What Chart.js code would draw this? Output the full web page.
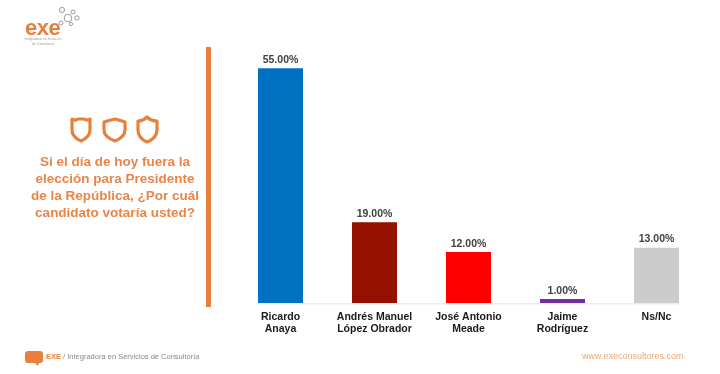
<!DOCTYPE html>
<html lang="es">
<head>
<meta charset="utf-8">
<title>exe</title>
<script src="https://cdn.jsdelivr.net/npm/chart.js@4"></script>
<style>
  html, body { margin: 0; padding: 0; background: #fff; }
  #wrap { position: relative; width: 720px; height: 374px; overflow: hidden; font-family: "Liberation Sans", Arial, sans-serif; }
  #chart { position: absolute; left: 0; top: 0; }
  .abs { position: absolute; white-space: nowrap; }
  #rule { left: 206px; top: 47px; width: 5px; height: 260px; background: #E87F3A; }
  #question { left: 15px; top: 153px; width: 200px; text-align: center; color: #E98546; font-weight: bold; font-size: 13.5px; line-height: 17px; }
  #logo { left: 25px; top: 15px; color: #E87F3A; font-weight: bold; font-size: 22px; letter-spacing: -0.5px; }
  #tag { left: 20px; top: 37px; width: 46px; text-align: center; color: #a09a95; font-size: 3.4px; line-height: 5px; }
  #foot { left: 46px; top: 352px; color: #8a8a8a; font-size: 7.5px; }
  #foot b { color: #E87F3A; }
  #web { left: 582px; top: 351px; color: #E8A77C; font-size: 9px; }
</style>
</head>
<body>
<div id="wrap">
  <canvas id="chart" width="720" height="374"></canvas>
  <svg class="abs" style="left:0;top:0" width="720" height="374" fill="none">
    <g stroke="#9a9a9a" stroke-width="1">
      <circle cx="62" cy="10" r="2.6"/>
      <circle cx="68" cy="18" r="3.8"/>
      <circle cx="73" cy="12" r="2"/>
      <circle cx="77" cy="18" r="2.2"/>
      <circle cx="61" cy="23" r="2"/>
      <circle cx="71" cy="24" r="1.6"/>
    </g>
    <g stroke="#E87F3A" stroke-width="3.2" stroke-linejoin="round">
      <path d="M72 119 q3 2 6 0 h6 q3 2 6 0 v11 q0 7 -9 11 q-9 -4 -9 -11 z"/>
      <path d="M104 122 q7 -2 11 -3 q4 1 10 3 v8 q0 7 -10 11 q-11 -4 -11 -11 z"/>
      <path d="M138 121 q5 0 9 -4 q4 4 10 4 v9 q0 8 -10 12 q-9 -4 -9 -12 z"/>
    </g>
    <path d="M28 351 h12 q3 0 3 3 v6 q0 3 -3 3 h-1 l-1 3 l-3 -3 h-7 q-3 0 -3 -3 v-6 q0 -3 3 -3 z" fill="#E87F3A"/>
  </svg>
  <div class="abs" id="logo">exe</div>
  <div class="abs" id="tag">Integradora en Servicios<br>de Consultoría</div>
  <div class="abs" id="rule"></div>
  <div class="abs" id="question">Si el día de hoy fuera la<br>elección para Presidente<br>de la República, ¿Por cuál<br>candidato votaría usted?</div>
  <div class="abs" id="foot"><b>EXE</b> / Integradora en Servicios de Consultoría</div>
  <div class="abs" id="web">www.execonsultores.com</div>
</div>
<script>
const categories = [
  ["Ricardo", "Anaya"],
  ["Andrés Manuel", "López Obrador"],
  ["José Antonio", "Meade"],
  ["Jaime", "Rodríguez"],
  ["Ns/Nc"]
];
const percentages = [55, 19, 12, 1, 13];
const barColors = ["#0070C0", "#941100", "#FF0000", "#7030A0", "#CCCCCC"];

// etiquetas de valor y línea base, dibujadas a partir de las barras
const valueLabels = {
  id: "valueLabels",
  afterDatasetsDraw(chart) {
    const ctx = chart.ctx;
    const bars = chart.getDatasetMeta(0).data;
    ctx.save();
    ctx.font = "bold 10.5px 'Liberation Sans'";
    ctx.fillStyle = "#404040";
    ctx.textAlign = "center";
    ctx.textBaseline = "bottom";
    bars.forEach((bar, i) => {
      ctx.fillText(percentages[i].toFixed(2) + "%", bar.x, bar.y - 3);
    });
    ctx.strokeStyle = "#e4e4e4";
    ctx.lineWidth = 1;
    ctx.beginPath();
    ctx.moveTo(bars[0].x - bars[0].width / 2 - 1, chart.chartArea.bottom + 0.5);
    ctx.lineTo(bars[4].x + bars[4].width / 2 + 1, chart.chartArea.bottom + 0.5);
    ctx.stroke();
    ctx.restore();
  }
};

new Chart(document.getElementById("chart").getContext("2d"), {
  type: "bar",
  data: {
    labels: categories,
    datasets: [{
      data: percentages,
      backgroundColor: barColors,
      borderWidth: 0,
      barPercentage: 1,
      categoryPercentage: 45 / 94
    }]
  },
  options: {
    responsive: false,
    animation: false,
    layout: { padding: { left: 233.5, right: 16.5, top: 47, bottom: 38.5 } },
    plugins: { legend: { display: false }, tooltip: { enabled: false } },
    scales: {
      x: {
        grid: { display: false },
        border: { display: false },
        ticks: {
          color: "#1a1a1a",
          font: { family: "Liberation Sans", size: 10.5, weight: "bold", lineHeight: 1.15 },
          padding: 0,
          maxRotation: 0,
          autoSkip: false
        }
      },
      y: {
        display: false,
        min: 0,
        max: 60
      }
    }
  },
  plugins: [valueLabels]
});
</script>
</body>
</html>
